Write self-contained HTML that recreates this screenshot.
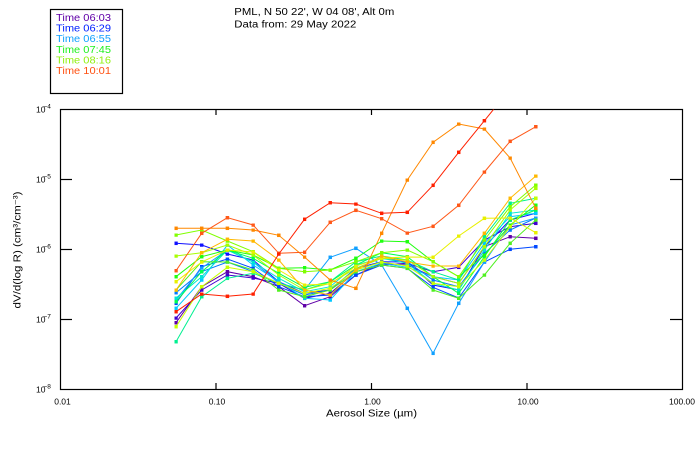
<!DOCTYPE html>
<html><head><meta charset="utf-8"><style>
html,body{margin:0;padding:0;background:#fff;}
svg{display:block;}
text{font-family:"Liberation Sans",sans-serif;}
</style></head><body>
<svg width="700" height="450" viewBox="0 0 700 450" xmlns="http://www.w3.org/2000/svg">
<defs>
<clipPath id="cp"><rect x="60.5" y="109.5" width="622" height="280"/></clipPath>
<marker id="m1" markerUnits="userSpaceOnUse" markerWidth="4" markerHeight="4" refX="1.75" refY="1.75"><rect width="3.5" height="3.5" fill="#6000a8"/></marker>
<marker id="m2" markerUnits="userSpaceOnUse" markerWidth="4" markerHeight="4" refX="1.75" refY="1.75"><rect width="3.5" height="3.5" fill="#4000d0"/></marker>
<marker id="m3" markerUnits="userSpaceOnUse" markerWidth="4" markerHeight="4" refX="1.75" refY="1.75"><rect width="3.5" height="3.5" fill="#1010ff"/></marker>
<marker id="m4" markerUnits="userSpaceOnUse" markerWidth="4" markerHeight="4" refX="1.75" refY="1.75"><rect width="3.5" height="3.5" fill="#0048ff"/></marker>
<marker id="m5" markerUnits="userSpaceOnUse" markerWidth="4" markerHeight="4" refX="1.75" refY="1.75"><rect width="3.5" height="3.5" fill="#0078ff"/></marker>
<marker id="m6" markerUnits="userSpaceOnUse" markerWidth="4" markerHeight="4" refX="1.75" refY="1.75"><rect width="3.5" height="3.5" fill="#10a0ff"/></marker>
<marker id="m7" markerUnits="userSpaceOnUse" markerWidth="4" markerHeight="4" refX="1.75" refY="1.75"><rect width="3.5" height="3.5" fill="#00c8ff"/></marker>
<marker id="m8" markerUnits="userSpaceOnUse" markerWidth="4" markerHeight="4" refX="1.75" refY="1.75"><rect width="3.5" height="3.5" fill="#00e8d0"/></marker>
<marker id="m9" markerUnits="userSpaceOnUse" markerWidth="4" markerHeight="4" refX="1.75" refY="1.75"><rect width="3.5" height="3.5" fill="#00f090"/></marker>
<marker id="m10" markerUnits="userSpaceOnUse" markerWidth="4" markerHeight="4" refX="1.75" refY="1.75"><rect width="3.5" height="3.5" fill="#00ff50"/></marker>
<marker id="m11" markerUnits="userSpaceOnUse" markerWidth="4" markerHeight="4" refX="1.75" refY="1.75"><rect width="3.5" height="3.5" fill="#20ff10"/></marker>
<marker id="m12" markerUnits="userSpaceOnUse" markerWidth="4" markerHeight="4" refX="1.75" refY="1.75"><rect width="3.5" height="3.5" fill="#50f020"/></marker>
<marker id="m13" markerUnits="userSpaceOnUse" markerWidth="4" markerHeight="4" refX="1.75" refY="1.75"><rect width="3.5" height="3.5" fill="#80ff00"/></marker>
<marker id="m14" markerUnits="userSpaceOnUse" markerWidth="4" markerHeight="4" refX="1.75" refY="1.75"><rect width="3.5" height="3.5" fill="#a8ff00"/></marker>
<marker id="m15" markerUnits="userSpaceOnUse" markerWidth="4" markerHeight="4" refX="1.75" refY="1.75"><rect width="3.5" height="3.5" fill="#c8ff00"/></marker>
<marker id="m16" markerUnits="userSpaceOnUse" markerWidth="4" markerHeight="4" refX="1.75" refY="1.75"><rect width="3.5" height="3.5" fill="#e8f000"/></marker>
<marker id="m17" markerUnits="userSpaceOnUse" markerWidth="4" markerHeight="4" refX="1.75" refY="1.75"><rect width="3.5" height="3.5" fill="#ffb800"/></marker>
<marker id="m18" markerUnits="userSpaceOnUse" markerWidth="4" markerHeight="4" refX="1.75" refY="1.75"><rect width="3.5" height="3.5" fill="#ff8800"/></marker>
<marker id="m19" markerUnits="userSpaceOnUse" markerWidth="4" markerHeight="4" refX="1.75" refY="1.75"><rect width="3.5" height="3.5" fill="#ff5818"/></marker>
<marker id="m20" markerUnits="userSpaceOnUse" markerWidth="4" markerHeight="4" refX="1.75" refY="1.75"><rect width="3.5" height="3.5" fill="#ff2000"/></marker>
</defs>

<!-- legend -->
<rect x="50.5" y="9.5" width="72" height="84" fill="none" stroke="#000" stroke-width="1.2"/>
<g font-size="10">
<text x="56" y="21" fill="#6000a8" textLength="55" lengthAdjust="spacingAndGlyphs">Time 06:03</text>
<text x="56" y="31.6" fill="#0020ff" textLength="55" lengthAdjust="spacingAndGlyphs">Time 06:29</text>
<text x="56" y="42.2" fill="#10a0ff" textLength="55" lengthAdjust="spacingAndGlyphs">Time 06:55</text>
<text x="56" y="52.8" fill="#20f020" textLength="55" lengthAdjust="spacingAndGlyphs">Time 07:45</text>
<text x="56" y="63.4" fill="#90f010" textLength="55" lengthAdjust="spacingAndGlyphs">Time 08:16</text>
<text x="56" y="74" fill="#ff5010" textLength="55" lengthAdjust="spacingAndGlyphs">Time 10:01</text>
</g>

<!-- title -->
<g font-size="10" fill="#000">
<text x="234.3" y="15" textLength="160" lengthAdjust="spacingAndGlyphs">PML, N 50 22', W 04 08', Alt 0m</text>
<text x="234.3" y="27.3" textLength="122" lengthAdjust="spacingAndGlyphs">Data from: 29 May 2022</text>
</g>

<!-- axes -->
<rect x="60.5" y="109.5" width="622" height="280" fill="none" stroke="#000" stroke-width="1.2"/>
<g stroke="#000" stroke-width="1.2">
<line x1="60.5" y1="179.5" x2="72" y2="179.5"/>
<line x1="60.5" y1="249.5" x2="72" y2="249.5"/>
<line x1="60.5" y1="319.5" x2="72" y2="319.5"/>
<line x1="670" y1="179.5" x2="682.5" y2="179.5"/>
<line x1="670" y1="249.5" x2="682.5" y2="249.5"/>
<line x1="670" y1="319.5" x2="682.5" y2="319.5"/>
<line x1="216" y1="389.5" x2="216" y2="383"/>
<line x1="371.5" y1="389.5" x2="371.5" y2="383"/>
<line x1="527" y1="389.5" x2="527" y2="383"/>
<line x1="216" y1="109.5" x2="216" y2="115"/>
<line x1="371.5" y1="109.5" x2="371.5" y2="115"/>
<line x1="527" y1="109.5" x2="527" y2="115"/>
</g>

<!-- y tick labels -->
<g font-size="8.5" fill="#000">
<text x="36" y="112.5">10</text><text x="43.5" y="108.5" font-size="6.5">−4</text>
<text x="36" y="182.5">10</text><text x="43.5" y="178.5" font-size="6.5">−5</text>
<text x="36" y="252.5">10</text><text x="43.5" y="248.5" font-size="6.5">−6</text>
<text x="36" y="322.5">10</text><text x="43.5" y="318.5" font-size="6.5">−7</text>
<text x="36" y="392.5">10</text><text x="43.5" y="388.5" font-size="6.5">−8</text>
</g>
<!-- x tick labels -->
<g font-size="8.5" fill="#000" text-anchor="middle">
<text x="62.5" y="404.5">0.01</text>
<text x="217" y="404.5">0.10</text>
<text x="372.5" y="404.5">1.00</text>
<text x="528" y="404.5">10.00</text>
<text x="682" y="404.5">100.00</text>
</g>
<text x="371.5" y="416.5" font-size="10" text-anchor="middle" textLength="91" lengthAdjust="spacingAndGlyphs">Aerosol Size (µm)</text>
<text transform="translate(20.5,250) rotate(-90)" font-size="10" text-anchor="middle" textLength="117" lengthAdjust="spacingAndGlyphs">dV/d(log R) (cm³/cm⁻³)</text>

<!-- series -->
<g clip-path="url(#cp)" fill="none" stroke-width="1">
<polyline stroke="#6000a8" marker-start="url(#m1)" marker-mid="url(#m1)" marker-end="url(#m1)" points="176,322.7 201.7,286.7 227.4,271.7 253.1,276.7 278.8,286.7 304.5,305.7 330.2,296.7 355.9,275 381.6,263.3 407.3,265 433,276.7 458.7,283.3 484.4,246.7 510.1,236.7 535.8,238.3"/>
<polyline stroke="#4000d0" marker-start="url(#m2)" marker-mid="url(#m2)" marker-end="url(#m2)" points="176,318 201.7,290 227.4,275 253.1,278 278.8,283.3 304.5,298.3 330.2,293.3 355.9,271.7 381.6,265 407.3,263.3 433,271.7 458.7,267.3 484.4,240 510.1,226.7 535.8,223.3"/>
<polyline stroke="#1010ff" marker-start="url(#m3)" marker-mid="url(#m3)" marker-end="url(#m3)" points="176,243.3 201.7,245 227.4,254 253.1,260 278.8,281.7 304.5,293.3 330.2,290 355.9,268.3 381.6,261.7 407.3,262 433,285 458.7,290 484.4,246.7 510.1,220 535.8,213.3"/>
<polyline stroke="#0048ff" marker-start="url(#m4)" marker-mid="url(#m4)" marker-end="url(#m4)" points="176,303.3 201.7,266.7 227.4,259 253.1,268.3 278.8,286.7 304.5,296.7 330.2,295 355.9,275 381.6,265 407.3,268.3 433,287.3 458.7,298 484.4,262 510.1,249.3 535.8,246.7"/>
<polyline stroke="#0078ff" marker-start="url(#m5)" marker-mid="url(#m5)" marker-end="url(#m5)" points="176,292.7 201.7,271.7 227.4,262 253.1,271.7 278.8,283.3 304.5,295 330.2,290 355.9,268.3 381.6,258.3 407.3,261.7 433,280 458.7,286.7 484.4,253.3 510.1,230 535.8,218"/>
<polyline stroke="#10a0ff" marker-start="url(#m6)" marker-mid="url(#m6)" marker-end="url(#m6)" points="176,300 201.7,268 227.4,250 253.1,262 278.8,283 304.5,290 330.2,257.3 355.9,248.3 381.6,265 407.3,308.3 433,353.3 458.7,303.3 484.4,262 510.1,225 535.8,218"/>
<polyline stroke="#00c8ff" marker-start="url(#m7)" marker-mid="url(#m7)" marker-end="url(#m7)" points="176,308.3 201.7,280 227.4,245 253.1,265 278.8,281.7 304.5,298.3 330.2,300 355.9,271.7 381.6,263.3 407.3,267.3 433,276.7 458.7,280 484.4,243.3 510.1,216.7 535.8,213.3"/>
<polyline stroke="#00e8d0" marker-start="url(#m8)" marker-mid="url(#m8)" marker-end="url(#m8)" points="176,298 201.7,276.7 227.4,250 253.1,262 278.8,278.3 304.5,291.7 330.2,286.7 355.9,265 381.6,258.3 407.3,263.3 433,283.3 458.7,290 484.4,250 510.1,213.3 535.8,210"/>
<polyline stroke="#00f090" marker-start="url(#m9)" marker-mid="url(#m9)" marker-end="url(#m9)" points="176,341.7 201.7,296.7 227.4,278.3 253.1,273.3 278.8,283.3 304.5,290 330.2,281.7 355.9,261.7 381.6,256 407.3,260 433,271.7 458.7,280 484.4,236.7 510.1,203.3 535.8,198.3"/>
<polyline stroke="#00ff50" marker-start="url(#m10)" marker-mid="url(#m10)" marker-end="url(#m10)" points="176,301.7 201.7,271.7 227.4,250 253.1,258.3 278.8,273.3 304.5,287.3 330.2,281.7 355.9,265 381.6,252.7 407.3,256.7 433,276.7 458.7,293.3 484.4,256.7 510.1,220 535.8,210"/>
<polyline stroke="#20ff10" marker-start="url(#m11)" marker-mid="url(#m11)" marker-end="url(#m11)" points="176,276.7 201.7,256.7 227.4,250 253.1,255 278.8,268.3 304.5,267.7 330.2,270 355.9,258.3 381.6,241 407.3,241.7 433,261.7 458.7,276.7 484.4,255 510.1,225 535.8,205"/>
<polyline stroke="#50f020" marker-start="url(#m12)" marker-mid="url(#m12)" marker-end="url(#m12)" points="176,290 201.7,261.7 227.4,262 253.1,270 278.8,290 304.5,296.7 330.2,290 355.9,271.7 381.6,265 407.3,268.3 433,290 458.7,298.3 484.4,275 510.1,243.3 535.8,220"/>
<polyline stroke="#80ff00" marker-start="url(#m13)" marker-mid="url(#m13)" marker-end="url(#m13)" points="176,235 201.7,230 227.4,241 253.1,251.7 278.8,268.3 304.5,271.7 330.2,270 355.9,261.7 381.6,252.7 407.3,250 433,261.7 458.7,276.7 484.4,240 510.1,206.7 535.8,185"/>
<polyline stroke="#a8ff00" marker-start="url(#m14)" marker-mid="url(#m14)" marker-end="url(#m14)" points="176,256 201.7,252.7 227.4,245 253.1,255 278.8,275 304.5,290 330.2,283.3 355.9,268.3 381.6,258.3 407.3,260 433,276.7 458.7,283.3 484.4,246.7 510.1,210 535.8,188.3"/>
<polyline stroke="#c8ff00" marker-start="url(#m15)" marker-mid="url(#m15)" marker-end="url(#m15)" points="176,326.7 201.7,286.7 227.4,267.3 253.1,271.7 278.8,283.3 304.5,293.3 330.2,288.3 355.9,270 381.6,262 407.3,266 433,283.3 458.7,286.7 484.4,260 510.1,226.7 535.8,198.3"/>
<polyline stroke="#e8f000" marker-start="url(#m16)" marker-mid="url(#m16)" marker-end="url(#m16)" points="176,281.7 201.7,262 227.4,250 253.1,252 278.8,270 304.5,285 330.2,284 355.9,266 381.6,258 407.3,257 433,257.3 458.7,236 484.4,218.3 510.1,218 535.8,232.7"/>
<polyline stroke="#ffb800" marker-start="url(#m17)" marker-mid="url(#m17)" marker-end="url(#m17)" points="176,290 201.7,252.7 227.4,239.3 253.1,241 278.8,260 304.5,290 330.2,295 355.9,270 381.6,256 407.3,262 433,266 458.7,266 484.4,233.3 510.1,198.3 535.8,176"/>
<polyline stroke="#ff8800" marker-start="url(#m18)" marker-mid="url(#m18)" marker-end="url(#m18)" points="176,228.3 201.7,228.3 227.4,228.3 253.1,230 278.8,235.3 304.5,257 330.2,280 355.9,288.3 381.6,233.3 407.3,180 433,142.3 458.7,124 484.4,129 510.1,158 535.8,208.3"/>
<polyline stroke="#ff5818" marker-start="url(#m19)" marker-mid="url(#m19)" marker-end="url(#m19)" points="176,270.7 201.7,233.3 227.4,217.7 253.1,225 278.8,253.3 304.5,252.3 330.2,222.3 355.9,210.3 381.6,218.7 407.3,233 433,226.3 458.7,205.3 484.4,172 510.1,141.3 535.8,126.7"/>
<polyline stroke="#ff2000" marker-start="url(#m20)" marker-mid="url(#m20)" marker-end="url(#m20)" points="176,311.7 201.7,294 227.4,296.3 253.1,294 278.8,254 304.5,219.3 330.2,202.7 355.9,204 381.6,213.3 407.3,212.3 433,185.3 458.7,152.3 484.4,120.7 510.1,89"/>
</g>
</svg>
</body></html>
